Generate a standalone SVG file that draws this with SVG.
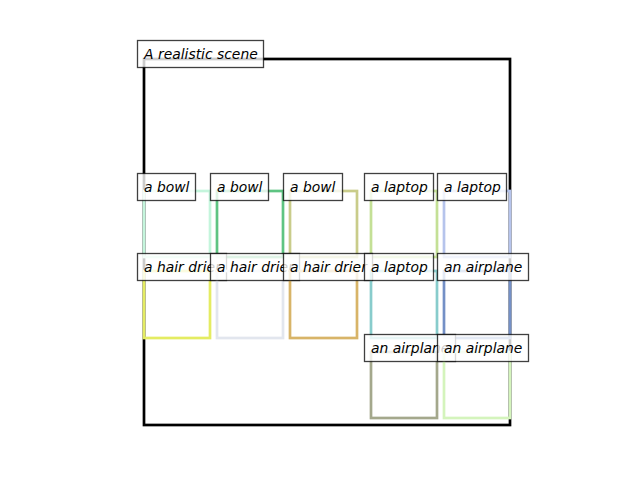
<svg xmlns="http://www.w3.org/2000/svg" width="640" height="480" viewBox="0 0 640 480">
<style>
.lb{fill:#fff;fill-opacity:0.8;stroke:#000;stroke-opacity:0.75;stroke-width:1.3}
.t{font-family:"DejaVu Sans",sans-serif;font-style:oblique;font-size:13.9px;fill:#000}
.bx{fill:none;stroke-width:2.7}
</style>
<rect width="640" height="480" fill="#fff"/>
<g id="scene">
<rect x="144" y="59" width="366" height="366" fill="none" stroke="#000" stroke-width="2.7"/>
<rect class="lb" x="137.5" y="40.5" width="126" height="27"/>
<text class="t" x="144" y="58.5">A realistic scene</text>
</g>
<g id="connectors"></g>
<g id="bowl1">
<rect class="bx" x="144" y="191" width="66" height="66" stroke="#c4f5dc"/>
<rect class="lb" x="137.5" y="173.5" width="58" height="27"/>
<text class="t" x="144" y="191.5">a bowl</text>
</g>
<g id="bowl2">
<rect class="bx" x="217" y="191" width="66" height="66" stroke="#5ec482"/>
<rect class="lb" x="210.5" y="173.5" width="58" height="27"/>
<text class="t" x="217" y="191.5">a bowl</text>
</g>
<g id="bowl3">
<rect class="bx" x="290" y="191" width="67" height="66" stroke="#c9cc8a"/>
<rect class="lb" x="283.5" y="173.5" width="59" height="27"/>
<text class="t" x="290" y="191.5">a bowl</text>
</g>
<g id="laptop1">
<rect class="bx" x="371" y="191" width="66" height="66" stroke="#c4e096"/>
<rect class="lb" x="364.5" y="173.5" width="69" height="27"/>
<text class="t" x="371" y="191.5">a laptop</text>
</g>
<g id="laptop2">
<rect class="bx" x="444" y="191" width="66" height="66" stroke="#b6c4ec"/>
<rect class="lb" x="437.5" y="173.5" width="69" height="27"/>
<text class="t" x="444" y="191.5">a laptop</text>
</g>
<g id="hairdrier1">
<rect class="bx" x="144" y="271" width="66" height="67" stroke="#e4ec62"/>
<rect class="lb" x="137.5" y="253.5" width="89" height="27"/>
<text class="t" x="144" y="271.5">a hair drier</text>
</g>
<g id="hairdrier2">
<rect class="bx" x="217" y="271" width="66" height="67" stroke="#e2e6ee"/>
<rect class="lb" x="210.5" y="253.5" width="89" height="27"/>
<text class="t" x="217" y="271.5">a hair drier</text>
</g>
<g id="hairdrier3">
<rect class="bx" x="290" y="271" width="67" height="67" stroke="#d8b468"/>
<rect class="lb" x="283.5" y="253.5" width="89" height="27"/>
<text class="t" x="290" y="271.5">a hair drier</text>
</g>
<g id="laptop3">
<rect class="bx" x="371" y="271" width="66" height="67" stroke="#88cccc"/>
<rect class="lb" x="364.5" y="253.5" width="69" height="27"/>
<text class="t" x="371" y="271.5">a laptop</text>
</g>
<g id="airplane1">
<rect class="bx" x="444" y="271" width="66" height="67" stroke="#7490c6"/>
<rect class="lb" x="437.5" y="253.5" width="91" height="27"/>
<text class="t" x="444" y="271.5">an airplane</text>
</g>
<g id="airplane2">
<rect class="bx" x="371" y="352" width="66" height="66" stroke="#a4a88c"/>
<rect class="lb" x="364.5" y="334.5" width="91" height="27"/>
<text class="t" x="371" y="352.5">an airplane</text>
</g>
<g id="airplane3">
<rect class="bx" x="444" y="352" width="66" height="66" stroke="#d4f4bc"/>
<rect class="lb" x="437.5" y="334.5" width="91" height="27"/>
<text class="t" x="444" y="352.5">an airplane</text>
</g>
</svg>
